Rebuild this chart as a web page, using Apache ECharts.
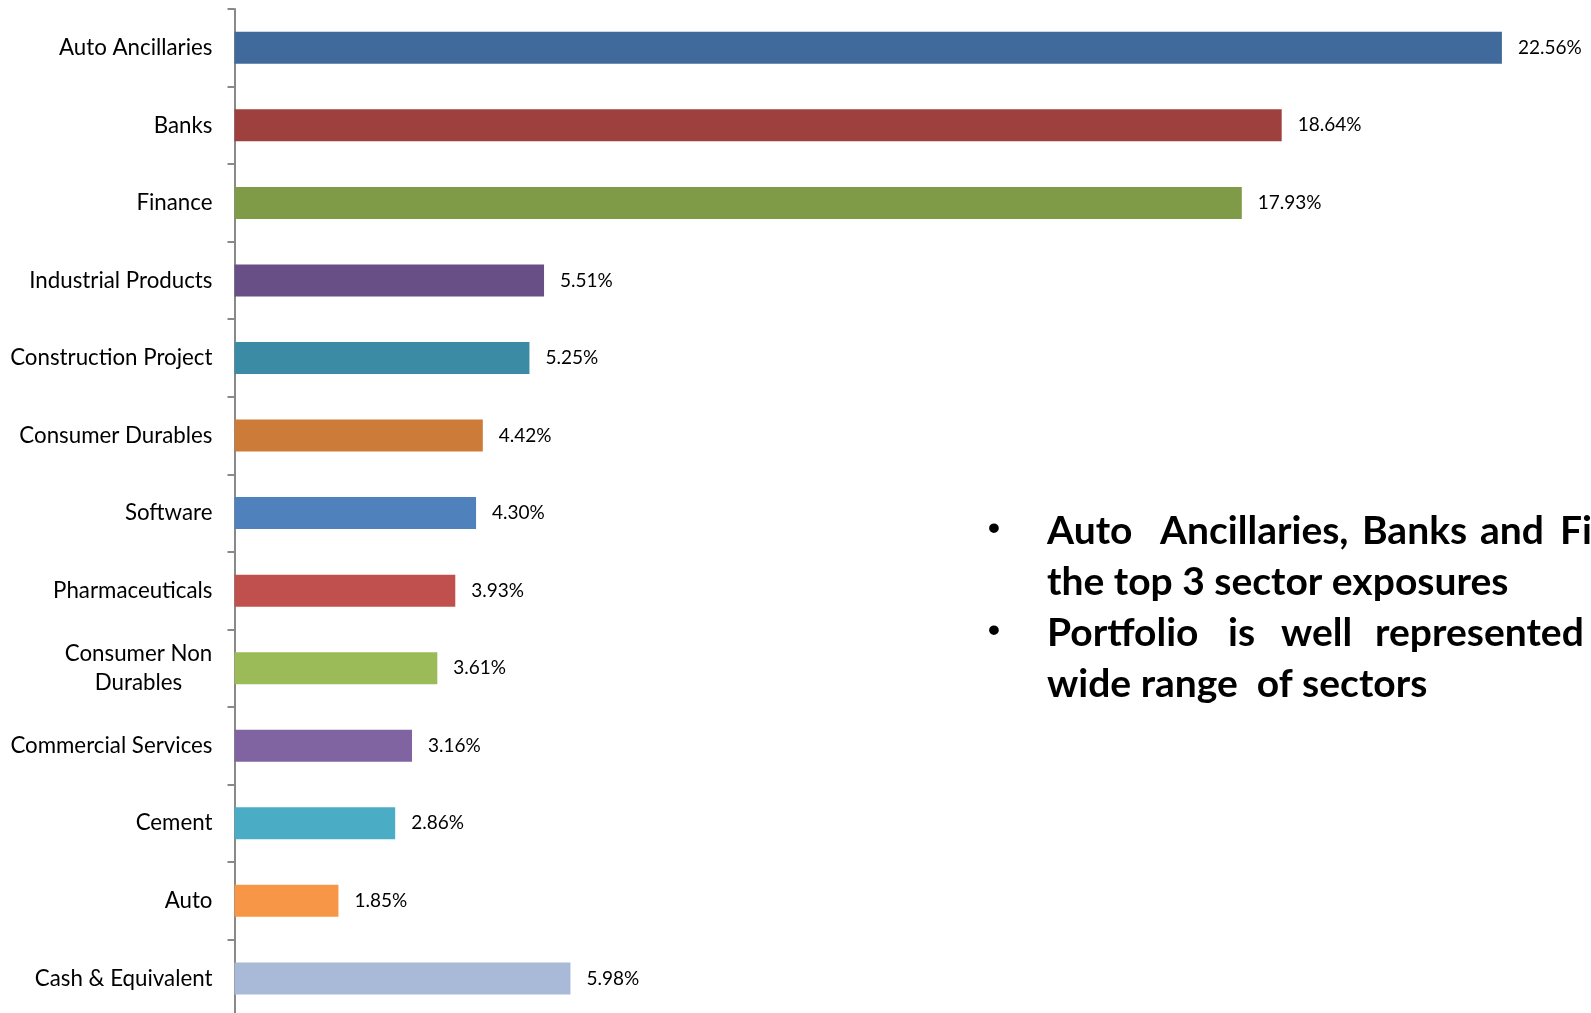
<!DOCTYPE html>
<html>
<head>
<meta charset="utf-8">
<script src="https://cdn.jsdelivr.net/npm/echarts@6/dist/echarts.min.js"></script>
<style>
html,body{margin:0;padding:0;background:#fff;}
#chart{width:1591px;height:1013px;}
</style>
</head>
<body>
<div id="chart"></div>
<script>
const categories = ['Auto Ancillaries','Banks','Finance','Industrial Products','Construction Project','Consumer Durables','Software','Pharmaceuticals','Consumer Non Durables','Commercial Services','Cement','Auto','Cash & Equivalent'];
const values = [22.56,18.64,17.93,5.51,5.25,4.42,4.30,3.93,3.61,3.16,2.86,1.85,5.98];
const barColors = ['#416A9C','#9E413E','#7F9B48','#684F86','#3A8BA3','#CD7B38','#4F81BD','#C0504D','#9BBB59','#8064A2','#4BACC6','#F79646','#A9B9D8'];
const bulletLine1 = ['Auto','Ancillaries,','Banks','and','Finance are'];
const bulletLine2 = 'the top 3 sector exposures';
const bulletLine3 = ['Portfolio','is','well','represented'];
const bulletLine4 = 'wide range  of sectors';

const FONT = 'Lato, "Noto Sans", sans-serif';
const catSize = 22.3;
const ctx = document.createElement('canvas').getContext('2d');
ctx.font = catSize + 'px ' + FONT;
const wrapW = Math.ceil(ctx.measureText('Consumer Non').width);

const chart = echarts.init(document.getElementById('chart'), null, {renderer:'canvas'});
const bf = {fontFamily: FONT, fontWeight: 'bold', fontSize: 39, fill: '#000', verticalAlign: 'middle', textVerticalAlign: 'middle'};
function word(t, x, y){ return {type:'text', x:x, y:y, style:Object.assign({text:t}, bf)}; }
function dot(x, y){ return {type:'text', x:x, y:y, style:{text:'•', fontFamily:'"Liberation Sans", Arial, sans-serif', fontWeight:'bold', fontSize:34, fill:'#000', verticalAlign:'middle', textVerticalAlign:'middle'}}; }
const l1x = [1047,1160,1362,1480,1560];
const l3x = [1047,1228,1281,1375];
const graphics = [];
graphics.push(dot(988, 530));
bulletLine1.forEach((w,i)=>graphics.push(word(w, l1x[i], 531)));
graphics.push(word(bulletLine2, 1047, 582));
graphics.push(dot(988, 632));
bulletLine3.forEach((w,i)=>graphics.push(word(w, l3x[i], 633)));
graphics.push(word(bulletLine4, 1047, 684));

chart.setOption({
  animation: false,
  backgroundColor: '#fff',
  grid: {left: 234.5, top: 9, width: 25 * 56.18, height: 13 * 77.55, containLabel: false, outerBoundsMode: 'none'},
  xAxis: {type: 'value', min: 0, max: 25, show: false},
  yAxis: {
    type: 'category', data: categories, inverse: true,
    axisLine: {show: true, lineStyle: {color: '#898989', width: 2}},
    axisTick: {show: true, length: 7, lineStyle: {color: '#898989', width: 2}},
    axisLabel: {
      margin: 22, color: '#000', fontFamily: FONT, fontSize: catSize,
      formatter: function(v){
        if (v === 'Consumer Non Durables') return '{c|Consumer Non}\n{c|Durables}';
        return v;
      },
      rich: {c: {width: wrapW, align: 'center', fontFamily: FONT, fontSize: catSize, color: '#000', lineHeight: 29}}
    },
    splitLine: {show: false}
  },
  series: [{
    type: 'bar', barWidth: 32,
    data: values.map((v,i)=>({value: v, itemStyle: {color: barColors[i]}})),
    label: {show: true, position: 'right', distance: 16, color: '#000', fontFamily: FONT, fontSize: 19,
      formatter: p => p.value.toFixed(2) + '%'}
  }],
  graphic: graphics
});
</script>
</body>
</html>
